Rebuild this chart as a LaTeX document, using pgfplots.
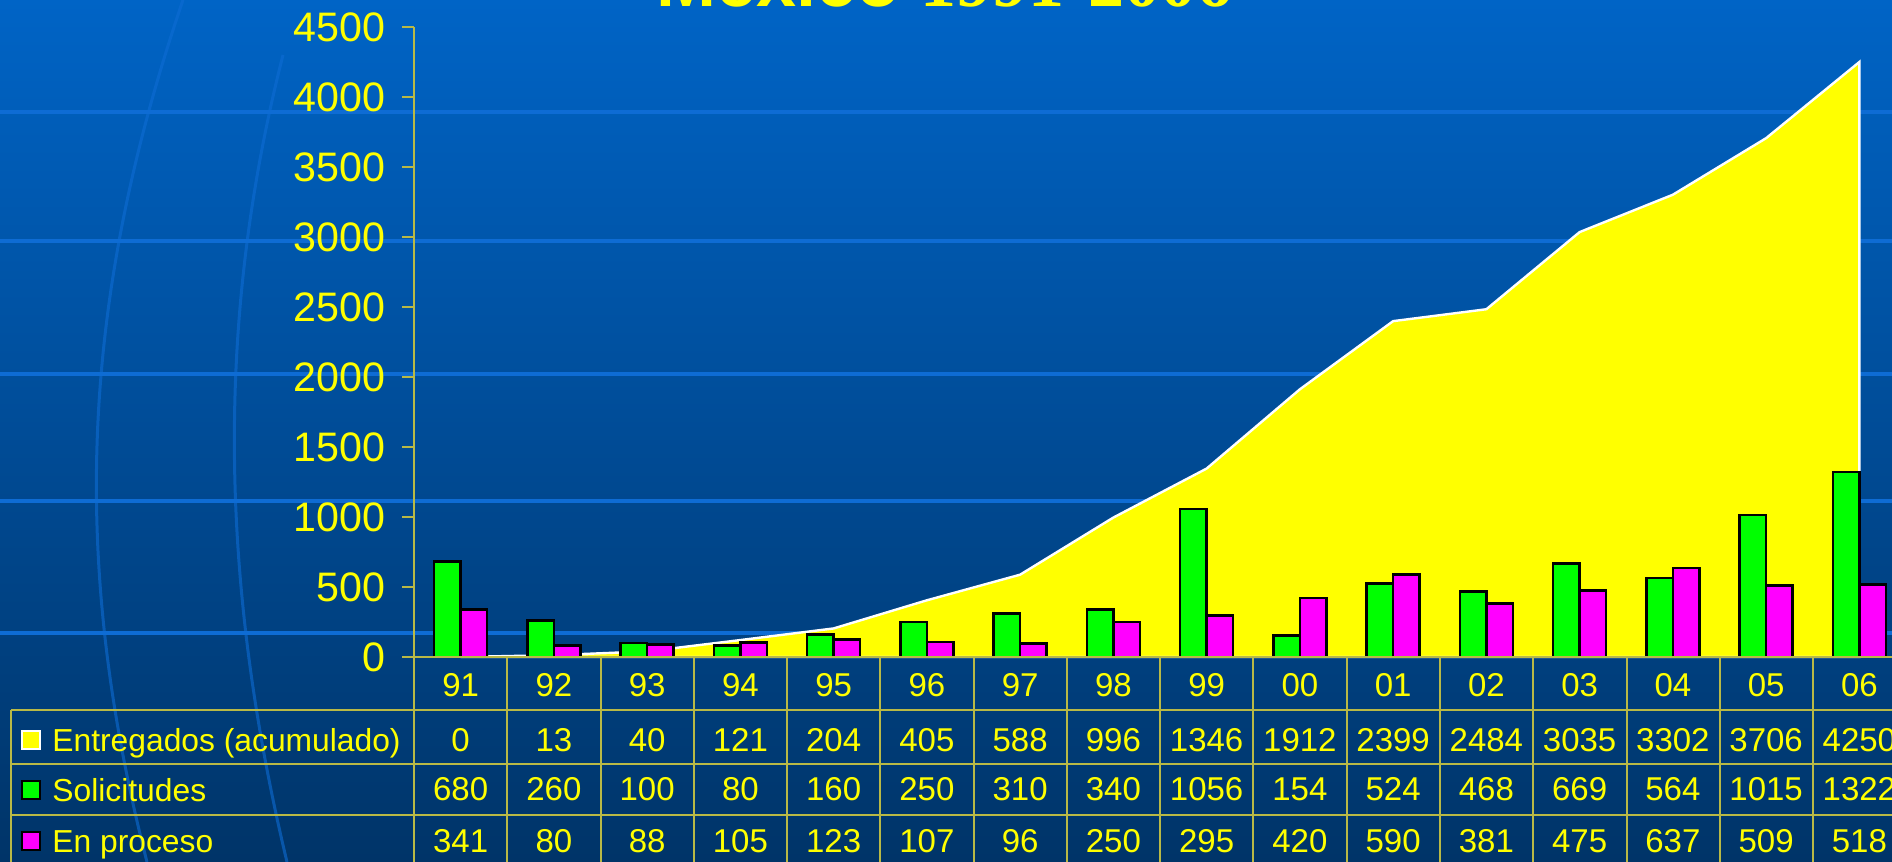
\documentclass[border=0pt]{standalone}
\usepackage{fontspec}
\setmainfont{Liberation Sans}
\newfontfamily\titleserif{Liberation Serif}
\usepackage{pgfplots}
\pgfplotsset{compat=1.18}
\usepackage{pgfplotstable}

\definecolor{bgtop}{RGB}{0,100,198}
\definecolor{bgbot}{RGB}{0,52,104}
\definecolor{deco}{RGB}{14,108,212}
\definecolor{rule}{RGB}{185,185,70}
\definecolor{ent}{RGB}{255,255,0}
\definecolor{sol}{RGB}{0,255,0}
\definecolor{proc}{RGB}{255,0,255}

% year, entregados (acumulado), solicitudes, en proceso
\pgfplotstableread{
x yr ent sol proc
0 91 0 680 341
1 92 13 260 80
2 93 40 100 88
3 94 121 80 105
4 95 204 160 123
5 96 405 250 107
6 97 588 310 96
7 98 996 340 250
8 99 1346 1056 295
9 00 1912 154 420
10 01 2399 524 590
11 02 2484 468 381
12 03 3035 669 475
13 04 3302 564 637
14 05 3706 1015 509
15 06 4250 1322 518
}\datos

\newcommand\tabfont{\fontsize{16.5}{16.5}\selectfont}

\begin{document}
\begin{tikzpicture}[x=0.5pt,y=0.5pt]
\path[use as bounding box] (0,0) rectangle (1892,862);
\clip (0,0) rectangle (1892,862);
\shade[top color=bgtop, bottom color=bgbot] (0,0) rectangle (1892,862);
\foreach \yy in {112,241,374,501,633}
  \draw[deco, line width=2pt] (0,{862-\yy}) -- (1892,{862-\yy});
% faint globe meridians of the slide background
\draw[deco, line width=1.5pt, opacity=0.6] (183,862) .. controls (80,560) and (70,300) .. (147,0);
\draw[deco, line width=1.5pt, opacity=0.6] (283,807) .. controls (220,560) and (215,300) .. (287,0);

\node[anchor=base west, inner sep=0pt, text=ent, font=\fontsize{36}{36}\selectfont\bfseries]
  at (656,855) {México {\titleserif 1991-2006}};

\begin{axis}[
  at={(207pt,102.5pt)}, anchor=south west,
  scale only axis, width=746pt, height=315pt,
  xmin=-0.5, xmax=15.5, ymin=0, ymax=4500,
  axis x line*=bottom, axis y line*=left,
  axis line style={rule, line width=1pt},
  ytick={0,500,...,4500},
  xtick={0,...,15},
  xticklabels from table={\datos}{yr},
  xtick style={draw=none},
  ytick style={rule, line width=1pt},
  tick align=outside, major tick length=6pt,
  tick label style={text=ent},
  yticklabel style={font=\fontsize{20.6}{20.6}\selectfont, inner sep=0pt, anchor=east, xshift=-8.2pt},
  xticklabel style={font=\tabfont, inner sep=0pt, anchor=center, yshift=-8pt},
  /pgf/number format/assume math mode=true,
  /pgf/number format/1000 sep={},
  clip=false,
  table row/.style={draw=none, mark=none, nodes near coords={\pgfplotspointmeta},
    point meta=explicit symbolic, nodes near coords align={anchor=center},
    every node near coord/.append style={text=ent, font=\tabfont, inner sep=0pt, anchor=center, yshift=#1}},
]
\addplot[fill=ent, draw=white, line width=1.2pt] table[x=x, y=ent]{\datos} \closedcycle;
\addplot[ybar, bar width=13.25pt, bar shift=-6.63pt, fill=sol, draw=black, line width=1.3pt]
  table[x=x, y=sol]{\datos};
\addplot[ybar, bar width=13.25pt, bar shift=6.63pt, fill=proc, draw=black, line width=1.3pt]
  table[x=x, y=proc]{\datos};

\addplot[table row=-41.5pt] table[x=x, y expr=0, meta=ent]{\datos};
\addplot[table row=-66pt] table[x=x, y expr=0, meta=sol]{\datos};
\addplot[table row=-92pt] table[x=x, y expr=0, meta=proc]{\datos};
\end{axis}

% table grid
\foreach \k in {0,...,16}
  \draw[rule, line width=1pt] ({414+\k*93.27},0) -- ({414+\k*93.27},205);
\draw[rule, line width=1pt] (414,205) -- (1892,205);
\foreach \yy in {152,98,47}
  \draw[rule, line width=1pt] (11,\yy) -- (1892,\yy);
\draw[rule, line width=1pt] (11,0) -- (11,152);

% row labels
\newcommand\labfont{\fontsize{15.9}{15.9}\selectfont}
\draw[fill=ent, draw=white, line width=1pt] (22,113) rectangle (40,131);
\draw[fill=sol, draw=black, line width=1pt] (22,63) rectangle (40,81);
\draw[fill=proc, draw=black, line width=1pt] (22,12) rectangle (40,30);
\node[anchor=base west, inner sep=0pt, text=ent, font=\labfont] at (52,110) {Entregados (acumulado)};
\node[anchor=base west, inner sep=0pt, text=ent, font=\labfont] at (52,60) {Solicitudes};
\node[anchor=base west, inner sep=0pt, text=ent, font=\labfont] at (52,9) {En proceso};
\end{tikzpicture}
\end{document}
